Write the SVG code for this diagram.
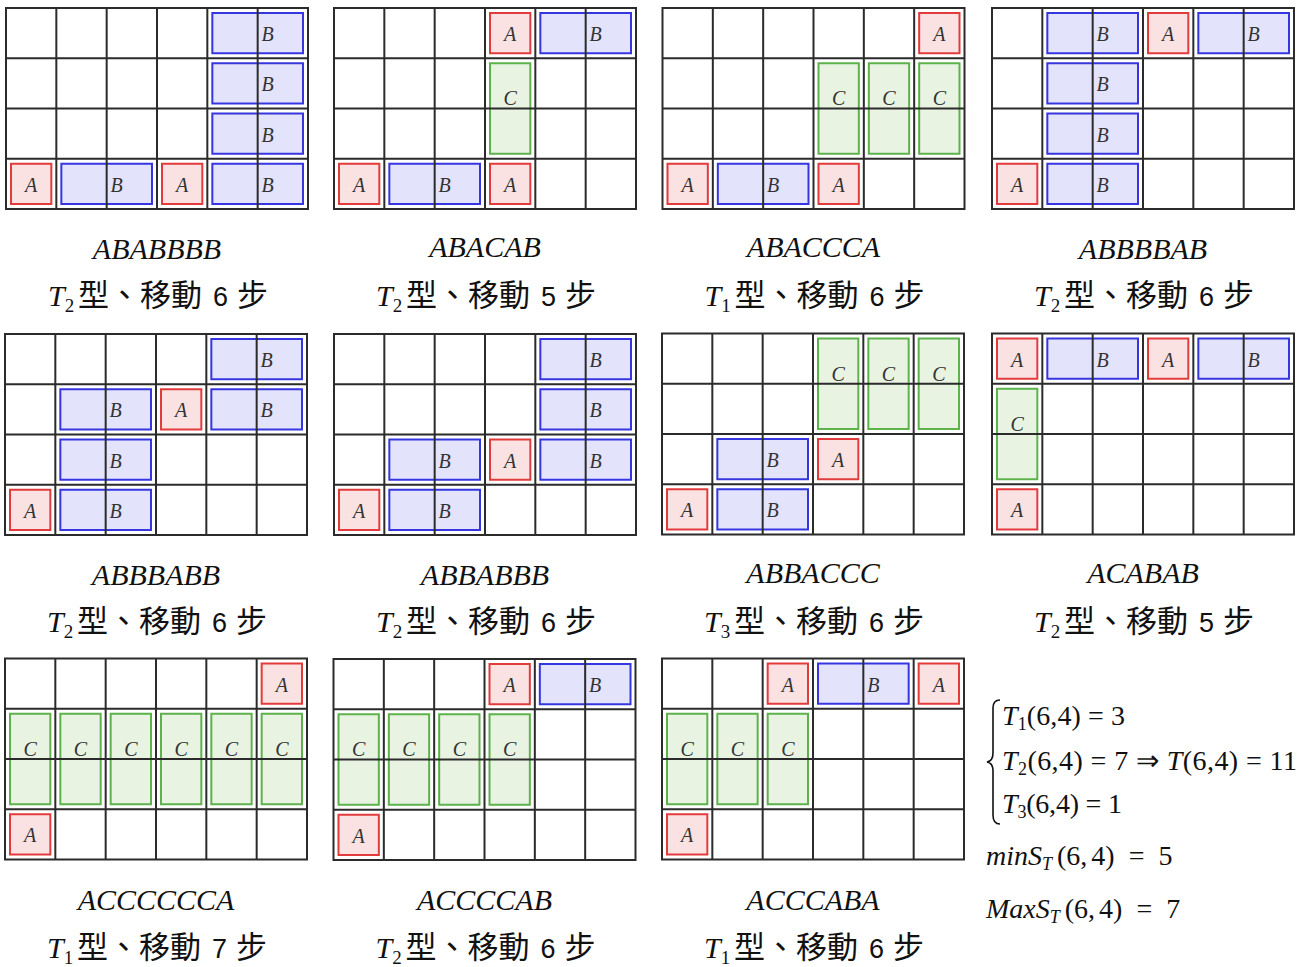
<svg xmlns="http://www.w3.org/2000/svg" xmlns:xlink="http://www.w3.org/1999/xlink" width="1299" height="967" viewBox="0 0 1299 967">
<style>
.gl{fill:none;stroke:#2b2b2b;stroke-width:2}
.pa{fill:#fbe2e2;stroke:#e23b3b;stroke-width:2}
.pb{fill:#e3e3fb;stroke:#3636e0;stroke-width:2}
.pc{fill:#e8f3e2;stroke:#5db24b;stroke-width:2}
.pl{font-family:"Liberation Serif",serif;font-style:italic;font-size:20px;fill:#333;text-anchor:middle}
.seq{font-family:"Liberation Serif",serif;font-style:italic;font-size:30px;fill:#111;text-anchor:middle}
.lab{fill:#111}
.ti{font-family:"Liberation Serif",serif;font-style:italic;font-size:30px}
.sub{font-family:"Liberation Serif",serif;font-style:normal;font-size:19px}
.cjk{font-family:"Noto Sans CJK TC","Noto Sans CJK SC",sans-serif;font-size:31px}
.num{font-family:"Liberation Sans",sans-serif;font-size:27px}
.fm{font-family:"Liberation Serif",serif;font-size:28px;fill:#111}
.it{font-style:italic}
.fs{font-size:18px}
</style>
<defs>
<path id="grid" class="gl" d="M0,0H302V201H0Z M50.33,0V201 M100.67,0V201 M151,0V201 M201.33,0V201 M251.67,0V201 M0,50.25H302 M0,100.5H302 M0,150.75H302"/>
</defs>

<g id="g1" transform="translate(6,8)">
<rect class="pb" x="206.33" y="5" width="90.67" height="40.25"/>
<rect class="pb" x="206.33" y="55.25" width="90.67" height="40.25"/>
<rect class="pb" x="206.33" y="105.5" width="90.67" height="40.25"/>
<rect class="pa" x="5" y="155.75" width="40.33" height="40.25"/>
<rect class="pb" x="55.33" y="155.75" width="90.67" height="40.25"/>
<rect class="pa" x="156" y="155.75" width="40.33" height="40.25"/>
<rect class="pb" x="206.33" y="155.75" width="90.67" height="40.25"/>
<use href="#grid"/>
<text class="pl" x="261.67" y="33">B</text>
<text class="pl" x="261.67" y="83.25">B</text>
<text class="pl" x="261.67" y="133.5">B</text>
<text class="pl" x="25.17" y="183.75">A</text>
<text class="pl" x="110.67" y="183.75">B</text>
<text class="pl" x="176.17" y="183.75">A</text>
<text class="pl" x="261.67" y="183.75">B</text>
</g>

<g id="g2" transform="translate(334,8)">
<rect class="pa" x="156" y="5" width="40.33" height="40.25"/>
<rect class="pb" x="206.33" y="5" width="90.67" height="40.25"/>
<rect class="pc" x="156" y="55.25" width="40.33" height="90.5"/>
<rect class="pa" x="5" y="155.75" width="40.33" height="40.25"/>
<rect class="pb" x="55.33" y="155.75" width="90.67" height="40.25"/>
<rect class="pa" x="156" y="155.75" width="40.33" height="40.25"/>
<use href="#grid"/>
<text class="pl" x="176.17" y="33">A</text>
<text class="pl" x="261.67" y="33">B</text>
<text class="pl" x="176.17" y="97.25">C</text>
<text class="pl" x="25.17" y="183.75">A</text>
<text class="pl" x="110.67" y="183.75">B</text>
<text class="pl" x="176.17" y="183.75">A</text>
</g>

<g id="g3" transform="translate(662.5,8)">
<rect class="pa" x="256.67" y="5" width="40.33" height="40.25"/>
<rect class="pc" x="156" y="55.25" width="40.33" height="90.5"/>
<rect class="pc" x="206.33" y="55.25" width="40.33" height="90.5"/>
<rect class="pc" x="256.67" y="55.25" width="40.33" height="90.5"/>
<rect class="pa" x="5" y="155.75" width="40.33" height="40.25"/>
<rect class="pb" x="55.33" y="155.75" width="90.67" height="40.25"/>
<rect class="pa" x="156" y="155.75" width="40.33" height="40.25"/>
<use href="#grid"/>
<text class="pl" x="276.83" y="33">A</text>
<text class="pl" x="176.17" y="97.25">C</text>
<text class="pl" x="226.5" y="97.25">C</text>
<text class="pl" x="276.83" y="97.25">C</text>
<text class="pl" x="25.17" y="183.75">A</text>
<text class="pl" x="110.67" y="183.75">B</text>
<text class="pl" x="176.17" y="183.75">A</text>
</g>

<g id="g4" transform="translate(992,8)">
<rect class="pb" x="55.33" y="5" width="90.67" height="40.25"/>
<rect class="pa" x="156" y="5" width="40.33" height="40.25"/>
<rect class="pb" x="206.33" y="5" width="90.67" height="40.25"/>
<rect class="pb" x="55.33" y="55.25" width="90.67" height="40.25"/>
<rect class="pb" x="55.33" y="105.5" width="90.67" height="40.25"/>
<rect class="pa" x="5" y="155.75" width="40.33" height="40.25"/>
<rect class="pb" x="55.33" y="155.75" width="90.67" height="40.25"/>
<use href="#grid"/>
<text class="pl" x="110.67" y="33">B</text>
<text class="pl" x="176.17" y="33">A</text>
<text class="pl" x="261.67" y="33">B</text>
<text class="pl" x="110.67" y="83.25">B</text>
<text class="pl" x="110.67" y="133.5">B</text>
<text class="pl" x="25.17" y="183.75">A</text>
<text class="pl" x="110.67" y="183.75">B</text>
</g>

<g id="g5" transform="translate(5,334)">
<rect class="pb" x="206.33" y="5" width="90.67" height="40.25"/>
<rect class="pb" x="55.33" y="55.25" width="90.67" height="40.25"/>
<rect class="pa" x="156" y="55.25" width="40.33" height="40.25"/>
<rect class="pb" x="206.33" y="55.25" width="90.67" height="40.25"/>
<rect class="pb" x="55.33" y="105.5" width="90.67" height="40.25"/>
<rect class="pa" x="5" y="155.75" width="40.33" height="40.25"/>
<rect class="pb" x="55.33" y="155.75" width="90.67" height="40.25"/>
<use href="#grid"/>
<text class="pl" x="261.67" y="33">B</text>
<text class="pl" x="110.67" y="83.25">B</text>
<text class="pl" x="176.17" y="83.25">A</text>
<text class="pl" x="261.67" y="83.25">B</text>
<text class="pl" x="110.67" y="133.5">B</text>
<text class="pl" x="25.17" y="183.75">A</text>
<text class="pl" x="110.67" y="183.75">B</text>
</g>

<g id="g6" transform="translate(334,334)">
<rect class="pb" x="206.33" y="5" width="90.67" height="40.25"/>
<rect class="pb" x="206.33" y="55.25" width="90.67" height="40.25"/>
<rect class="pb" x="55.33" y="105.5" width="90.67" height="40.25"/>
<rect class="pa" x="156" y="105.5" width="40.33" height="40.25"/>
<rect class="pb" x="206.33" y="105.5" width="90.67" height="40.25"/>
<rect class="pa" x="5" y="155.75" width="40.33" height="40.25"/>
<rect class="pb" x="55.33" y="155.75" width="90.67" height="40.25"/>
<use href="#grid"/>
<text class="pl" x="261.67" y="33">B</text>
<text class="pl" x="261.67" y="83.25">B</text>
<text class="pl" x="110.67" y="133.5">B</text>
<text class="pl" x="176.17" y="133.5">A</text>
<text class="pl" x="261.67" y="133.5">B</text>
<text class="pl" x="25.17" y="183.75">A</text>
<text class="pl" x="110.67" y="183.75">B</text>
</g>

<g id="g7" transform="translate(662,333.5)">
<rect class="pc" x="156" y="5" width="40.33" height="90.5"/>
<rect class="pc" x="206.33" y="5" width="40.33" height="90.5"/>
<rect class="pc" x="256.67" y="5" width="40.33" height="90.5"/>
<rect class="pb" x="55.33" y="105.5" width="90.67" height="40.25"/>
<rect class="pa" x="156" y="105.5" width="40.33" height="40.25"/>
<rect class="pa" x="5" y="155.75" width="40.33" height="40.25"/>
<rect class="pb" x="55.33" y="155.75" width="90.67" height="40.25"/>
<use href="#grid"/>
<text class="pl" x="176.17" y="47">C</text>
<text class="pl" x="226.5" y="47">C</text>
<text class="pl" x="276.83" y="47">C</text>
<text class="pl" x="110.67" y="133.5">B</text>
<text class="pl" x="176.17" y="133.5">A</text>
<text class="pl" x="25.17" y="183.75">A</text>
<text class="pl" x="110.67" y="183.75">B</text>
</g>

<g id="g8" transform="translate(992,333.5)">
<rect class="pa" x="5" y="5" width="40.33" height="40.25"/>
<rect class="pb" x="55.33" y="5" width="90.67" height="40.25"/>
<rect class="pa" x="156" y="5" width="40.33" height="40.25"/>
<rect class="pb" x="206.33" y="5" width="90.67" height="40.25"/>
<rect class="pc" x="5" y="55.25" width="40.33" height="90.5"/>
<rect class="pa" x="5" y="155.75" width="40.33" height="40.25"/>
<use href="#grid"/>
<text class="pl" x="25.17" y="33">A</text>
<text class="pl" x="110.67" y="33">B</text>
<text class="pl" x="176.17" y="33">A</text>
<text class="pl" x="261.67" y="33">B</text>
<text class="pl" x="25.17" y="97.25">C</text>
<text class="pl" x="25.17" y="183.75">A</text>
</g>

<g id="g9" transform="translate(5,658.5)">
<rect class="pa" x="256.67" y="5" width="40.33" height="40.25"/>
<rect class="pc" x="5" y="55.25" width="40.33" height="90.5"/>
<rect class="pc" x="55.33" y="55.25" width="40.33" height="90.5"/>
<rect class="pc" x="105.67" y="55.25" width="40.33" height="90.5"/>
<rect class="pc" x="156" y="55.25" width="40.33" height="90.5"/>
<rect class="pc" x="206.33" y="55.25" width="40.33" height="90.5"/>
<rect class="pc" x="256.67" y="55.25" width="40.33" height="90.5"/>
<rect class="pa" x="5" y="155.75" width="40.33" height="40.25"/>
<use href="#grid"/>
<text class="pl" x="276.83" y="33">A</text>
<text class="pl" x="25.17" y="97.25">C</text>
<text class="pl" x="75.5" y="97.25">C</text>
<text class="pl" x="125.83" y="97.25">C</text>
<text class="pl" x="176.17" y="97.25">C</text>
<text class="pl" x="226.5" y="97.25">C</text>
<text class="pl" x="276.83" y="97.25">C</text>
<text class="pl" x="25.17" y="183.75">A</text>
</g>

<g id="g10" transform="translate(333.5,659)">
<rect class="pa" x="156" y="5" width="40.33" height="40.25"/>
<rect class="pb" x="206.33" y="5" width="90.67" height="40.25"/>
<rect class="pc" x="5" y="55.25" width="40.33" height="90.5"/>
<rect class="pc" x="55.33" y="55.25" width="40.33" height="90.5"/>
<rect class="pc" x="105.67" y="55.25" width="40.33" height="90.5"/>
<rect class="pc" x="156" y="55.25" width="40.33" height="90.5"/>
<rect class="pa" x="5" y="155.75" width="40.33" height="40.25"/>
<use href="#grid"/>
<text class="pl" x="176.17" y="33">A</text>
<text class="pl" x="261.67" y="33">B</text>
<text class="pl" x="25.17" y="97.25">C</text>
<text class="pl" x="75.5" y="97.25">C</text>
<text class="pl" x="125.83" y="97.25">C</text>
<text class="pl" x="176.17" y="97.25">C</text>
<text class="pl" x="25.17" y="183.75">A</text>
</g>

<g id="g11" transform="translate(662,658.5)">
<rect class="pa" x="105.67" y="5" width="40.33" height="40.25"/>
<rect class="pb" x="156" y="5" width="90.67" height="40.25"/>
<rect class="pa" x="256.67" y="5" width="40.33" height="40.25"/>
<rect class="pc" x="5" y="55.25" width="40.33" height="90.5"/>
<rect class="pc" x="55.33" y="55.25" width="40.33" height="90.5"/>
<rect class="pc" x="105.67" y="55.25" width="40.33" height="90.5"/>
<rect class="pa" x="5" y="155.75" width="40.33" height="40.25"/>
<use href="#grid"/>
<text class="pl" x="125.83" y="33">A</text>
<text class="pl" x="211.33" y="33">B</text>
<text class="pl" x="276.83" y="33">A</text>
<text class="pl" x="25.17" y="97.25">C</text>
<text class="pl" x="75.5" y="97.25">C</text>
<text class="pl" x="125.83" y="97.25">C</text>
<text class="pl" x="25.17" y="183.75">A</text>
</g>

<g id="labels">
<g id="l1" transform="translate(157,0)">
<text class="seq" x="0" y="259">ABABBBB</text>
<text class="lab" y="306"><tspan class="ti" x="-109">T</tspan><tspan class="sub" dy="6">2</tspan><tspan class="cjk" x="-79" dy="-6">型、移動</tspan><tspan class="num" x="56">6</tspan><tspan class="cjk" x="80">步</tspan></text>
</g>
<g id="l2" transform="translate(485,0)">
<text class="seq" x="0" y="257">ABACAB</text>
<text class="lab" y="306"><tspan class="ti" x="-109">T</tspan><tspan class="sub" dy="6">2</tspan><tspan class="cjk" x="-79" dy="-6">型、移動</tspan><tspan class="num" x="56">5</tspan><tspan class="cjk" x="80">步</tspan></text>
</g>
<g id="l3" transform="translate(813.5,0)">
<text class="seq" x="0" y="257">ABACCCA</text>
<text class="lab" y="306"><tspan class="ti" x="-109">T</tspan><tspan class="sub" dy="6">1</tspan><tspan class="cjk" x="-79" dy="-6">型、移動</tspan><tspan class="num" x="56">6</tspan><tspan class="cjk" x="80">步</tspan></text>
</g>
<g id="l4" transform="translate(1143,0)">
<text class="seq" x="0" y="259">ABBBBAB</text>
<text class="lab" y="306"><tspan class="ti" x="-109">T</tspan><tspan class="sub" dy="6">2</tspan><tspan class="cjk" x="-79" dy="-6">型、移動</tspan><tspan class="num" x="56">6</tspan><tspan class="cjk" x="80">步</tspan></text>
</g>
<g id="l5" transform="translate(156,0)">
<text class="seq" x="0" y="585">ABBBABB</text>
<text class="lab" y="632"><tspan class="ti" x="-109">T</tspan><tspan class="sub" dy="6">2</tspan><tspan class="cjk" x="-79" dy="-6">型、移動</tspan><tspan class="num" x="56">6</tspan><tspan class="cjk" x="80">步</tspan></text>
</g>
<g id="l6" transform="translate(485,0)">
<text class="seq" x="0" y="585">ABBABBB</text>
<text class="lab" y="632"><tspan class="ti" x="-109">T</tspan><tspan class="sub" dy="6">2</tspan><tspan class="cjk" x="-79" dy="-6">型、移動</tspan><tspan class="num" x="56">6</tspan><tspan class="cjk" x="80">步</tspan></text>
</g>
<g id="l7" transform="translate(813,0)">
<text class="seq" x="0" y="583">ABBACCC</text>
<text class="lab" y="632"><tspan class="ti" x="-109">T</tspan><tspan class="sub" dy="6">3</tspan><tspan class="cjk" x="-79" dy="-6">型、移動</tspan><tspan class="num" x="56">6</tspan><tspan class="cjk" x="80">步</tspan></text>
</g>
<g id="l8" transform="translate(1143,0)">
<text class="seq" x="0" y="583">ACABAB</text>
<text class="lab" y="632"><tspan class="ti" x="-109">T</tspan><tspan class="sub" dy="6">2</tspan><tspan class="cjk" x="-79" dy="-6">型、移動</tspan><tspan class="num" x="56">5</tspan><tspan class="cjk" x="80">步</tspan></text>
</g>
<g id="l9" transform="translate(156,0)">
<text class="seq" x="0" y="910">ACCCCCCA</text>
<text class="lab" y="958"><tspan class="ti" x="-109">T</tspan><tspan class="sub" dy="6">1</tspan><tspan class="cjk" x="-79" dy="-6">型、移動</tspan><tspan class="num" x="56">7</tspan><tspan class="cjk" x="80">步</tspan></text>
</g>
<g id="l10" transform="translate(484.5,0)">
<text class="seq" x="0" y="910">ACCCCAB</text>
<text class="lab" y="958"><tspan class="ti" x="-109">T</tspan><tspan class="sub" dy="6">2</tspan><tspan class="cjk" x="-79" dy="-6">型、移動</tspan><tspan class="num" x="56">6</tspan><tspan class="cjk" x="80">步</tspan></text>
</g>
<g id="l11" transform="translate(813,0)">
<text class="seq" x="0" y="910">ACCCABA</text>
<text class="lab" y="958"><tspan class="ti" x="-109">T</tspan><tspan class="sub" dy="6">1</tspan><tspan class="cjk" x="-79" dy="-6">型、移動</tspan><tspan class="num" x="56">6</tspan><tspan class="cjk" x="80">步</tspan></text>
</g>
</g>

<g id="formula">
<path d="M1000,700 Q993,700 993,708 L993,753 Q993,761 987,762 Q993,763 993,771 L993,815 Q993,824 1000,824" fill="none" stroke="#111" stroke-width="1.6"/>
<text class="fm" x="1002" y="725" textLength="123" lengthAdjust="spacing"><tspan class="it">T</tspan><tspan class="fs" dy="5">1</tspan><tspan dy="-5">(6,4) = 3</tspan></text>
<text class="fm" x="1002" y="770" textLength="295" lengthAdjust="spacing"><tspan class="it">T</tspan><tspan class="fs" dy="5">2</tspan><tspan dy="-5">(6,4) = 7 ⇒ </tspan><tspan class="it">T</tspan><tspan>(6,4) = 11</tspan></text>
<text class="fm" x="1002" y="813" textLength="120" lengthAdjust="spacing"><tspan class="it">T</tspan><tspan class="fs" dy="5">3</tspan><tspan dy="-5">(6,4) = 1</tspan></text>
<text class="fm" x="986" y="865"><tspan class="it">minS</tspan><tspan class="it fs" dy="5">T</tspan><tspan dx="5" dy="-5">(6,</tspan><tspan dx="4">4)</tspan><tspan dx="14">=</tspan><tspan dx="14">5</tspan></text>
<text class="fm" x="986" y="918"><tspan class="it">MaxS</tspan><tspan class="it fs" dy="5">T</tspan><tspan dx="5" dy="-5">(6,</tspan><tspan dx="4">4)</tspan><tspan dx="14">=</tspan><tspan dx="14">7</tspan></text>
</g>
</svg>
